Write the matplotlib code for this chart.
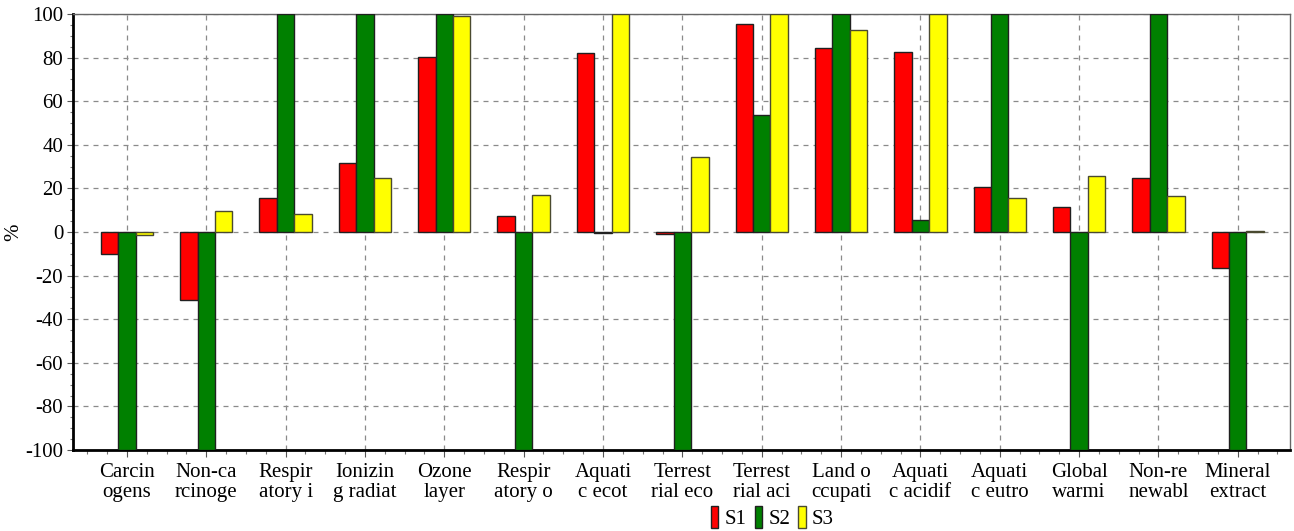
"""Impact category comparison, S1/S2/S3 relative to reference (%)."""
import matplotlib
matplotlib.use("Agg")
import matplotlib.pyplot as plt
from matplotlib.ticker import MultipleLocator
import numpy as np

CATEGORIES = ["Carcin\nogens", "Non-ca\nrcinoge", "Respir\natory i", "Ionizin\ng radiat",
              "Ozone\nlayer", "Respir\natory o", "Aquati\nc ecot", "Terrest\nrial eco",
              "Terrest\nrial aci", "Land o\nccupati", "Aquati\nc acidif", "Aquati\nc eutro",
              "Global\nwarmi", "Non-re\nnewabl", "Mineral\nextract"]
S1 = [-10, -31, 15.5, 31.5, 80.5, 7.2, 82.2, -0.9, 95.6, 84.2, 82.6, 20.6, 11.5, 24.9, -16.3]
S2 = [-100, -100, 100, 100, 100, -100, -0.3, -100, 53.7, 100, 5.7, 100, -100, 100, -100]
S3 = [-1.4, 9.5, 8.3, 24.9, 99.3, 16.9, 100, 34.4, 100, 92.8, 100, 15.7, 25.5, 16.3, 0.3]
SERIES = ["S1", "S2", "S3"]
COLORS = {"S1": "#ff0000", "S2": "#008000", "S3": "#ffff00"}
EDGES = {"S1": "#202020", "S2": "#202020", "S3": "#4a4a30"}

plt.rcParams["font.family"] = "serif"
plt.rcParams["font.serif"] = ["Liberation Serif", "DejaVu Serif"]
plt.rcParams["axes.unicode_minus"] = False

fig = plt.figure(figsize=(12.94, 5.31), dpi=100)
ax = fig.add_axes([0.0564, 0.1525, 0.9406, 0.8211])

x = np.arange(len(CATEGORIES))
w = 0.22
for k, (name, vals) in enumerate(zip(SERIES, [S1, S2, S3])):
    ax.bar(x + (k - 1) * w, vals, w, color=COLORS[name], edgecolor=EDGES[name],
           linewidth=1.0, label=name, zorder=3)

ax.set_xlim(-0.68, 14.66)
ax.set_ylim(-100, 100)
ax.yaxis.set_major_locator(MultipleLocator(20))
ax.yaxis.set_minor_locator(MultipleLocator(5))
ax.set_xticks(x)
ax.set_xticklabels(CATEGORIES, fontsize=15, linespacing=1.1)
ax.xaxis.set_minor_locator(MultipleLocator(0.25))
ax.tick_params(axis="y", which="major", labelsize=15, length=4, width=0.8,
               color="#555555", pad=3)
ax.tick_params(axis="y", which="minor", length=2.5, width=0.8, color="#777777")
ax.tick_params(axis="x", which="major", length=5, width=0.8, color="#555555", pad=4)
ax.tick_params(axis="x", which="minor", length=3, width=0.8, color="#777777")
ax.grid(True, ls=(0, (4, 4)), color="#8a8a8a", lw=0.9, zorder=0)

for side in ["left", "bottom"]:
    ax.spines[side].set_linewidth(2.0)
    ax.spines[side].set_color("black")
for side in ["top", "right"]:
    ax.spines[side].set_linewidth(1.0)
    ax.spines[side].set_color("#666666")

ax.set_ylabel("%", fontsize=15)
ax.yaxis.set_label_coords(-0.041, 0.5)

fig.legend(loc="center", bbox_to_anchor=(0.597, 0.026), ncol=3, frameon=False,
           fontsize=15, handlelength=0.35, handleheight=1.3, handletextpad=0.3,
           columnspacing=0.4, borderpad=0)

fig.savefig("out.png", dpi=100)
